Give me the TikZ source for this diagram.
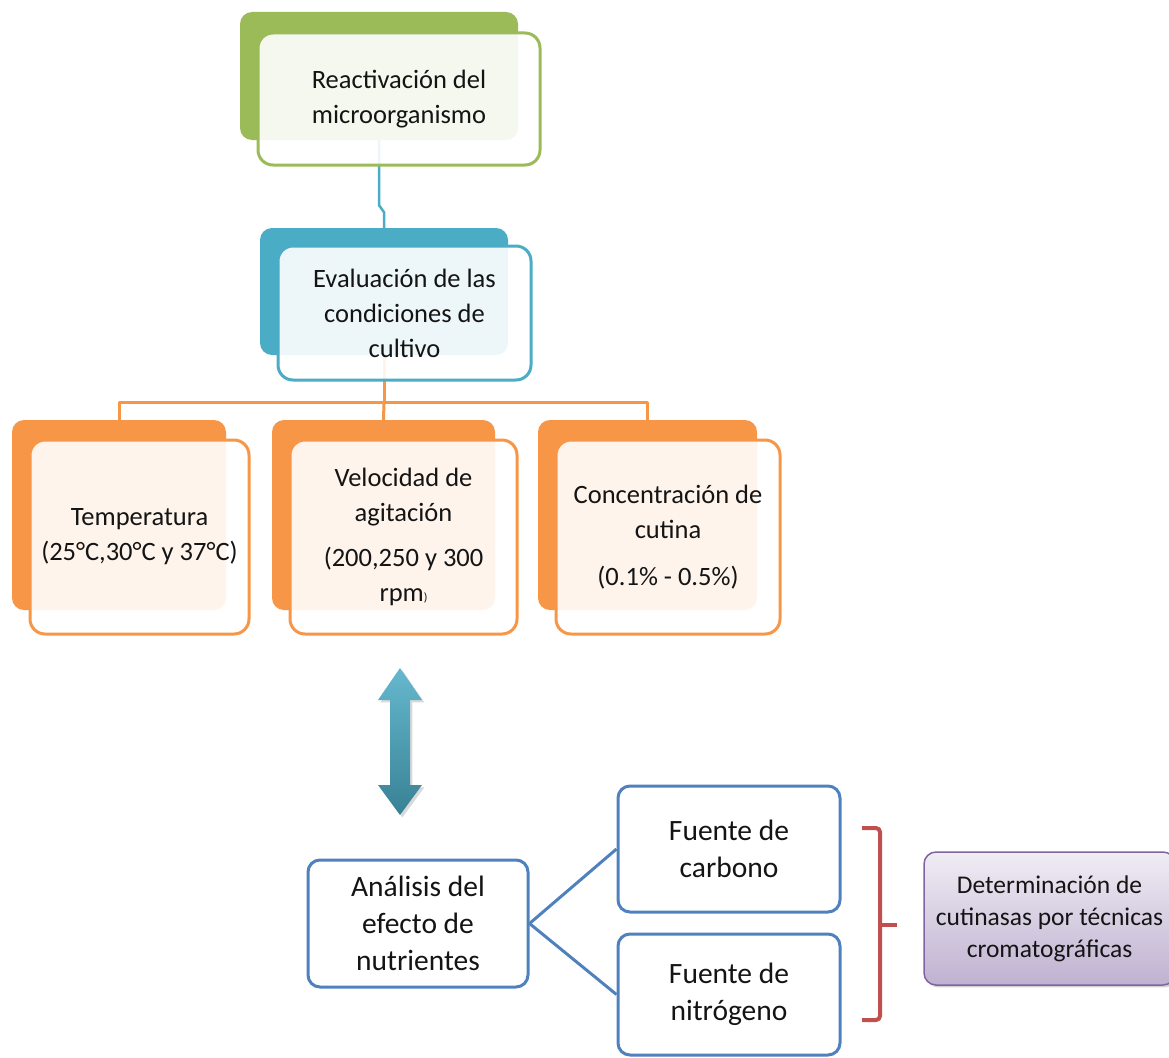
\documentclass[tikz,border=0pt]{standalone}
\usepackage{fontspec}
\setmainfont{Carlito}
\usetikzlibrary{positioning,shadows}
\definecolor{ogreen}{HTML}{9BBB59}
\definecolor{oblue}{HTML}{4BACC6}
\definecolor{oorange}{HTML}{F79646}
\definecolor{nblue}{HTML}{4F81BD}
\definecolor{bred}{HTML}{C0504D}
\definecolor{vpurple}{HTML}{8064A2}
\definecolor{txt}{HTML}{141414}
\begin{document}
\begin{tikzpicture}[x=1pt,y=-1pt,line join=round,
  every node/.style={text=txt,font=\fontsize{26.5}{35}\selectfont,align=center},
  back/.style={rounded corners=12pt,inner sep=0pt},
  front/.style={rounded corners=15pt,line width=3pt,fill=white,fill opacity=0.9,text opacity=1,inner sep=0pt},
  nutbox/.style={draw=nblue,line width=3pt,rounded corners=12pt,fill=white,inner sep=0pt,font=\fontsize{29.5}{37}\selectfont},
]
\useasboundingbox (0,0) rectangle (1169,1057);

 \node (node_0b) at (379,76) [back,fill=ogreen,minimum width=278pt,minimum height=128pt] {};
 \node (node_1b) at (384,291.5) [back,fill=oblue,minimum width=248pt,minimum height=127pt] {};
 \node (node_2b) at (119,515) [back,fill=oorange,minimum width=214pt,minimum height=190pt] {};
 \node (node_3b) at (383.5,515) [back,fill=oorange,minimum width=223pt,minimum height=190pt] {};
 \node (node_4b) at (647.5,515) [back,fill=oorange,minimum width=219pt,minimum height=190pt] {};

  \draw [oblue,line width=2.5pt] (node_0b.south) -- ++(0,65) -- ++(5,7) |- (node_1b.north);
  \coordinate (fork) at (384,402);
  \draw [oorange,line width=3pt] (node_1b.south) -- (fork);
  \draw [oorange,line width=3pt] (node_2b.north) |- (fork) -| (node_4b.north);
  \draw [oorange,line width=3pt] (fork) -- (node_3b.north);

 \node (node_0) at (399,99) [front,draw=ogreen,minimum width=282pt,minimum height=132pt] {Reactivación del\\microorganismo};
 \node (node_1) at (404.5,313) [front,draw=oblue,minimum width=253pt,minimum height=134pt] {Evaluación de las\\condiciones de\\cultivo};
 \node (node_2) at (139.5,537) [front,draw=oorange,minimum width=219pt,minimum height=194pt] {Temperatura\\(25°C,30°C y 37°C)};
 \node (node_3) at (403.5,537) [front,draw=oorange,minimum width=227pt,minimum height=194pt] {Velocidad de\\agitación\\[10pt](200,250 y 300\\rpm{\fontsize{12}{14}\selectfont)}};
 \node (node_4) at (668,537) [front,draw=oorange,minimum width=224pt,minimum height=194pt] {Concentración de\\cutina\\[12pt](0.1\% - 0.5\%)};

  \shade [top color=oblue!85!white,bottom color=oblue!75!black,drop shadow={opacity=0.3}]
    (400,668) -- (422,700) -- (410,700) -- (410,785) -- (422,785) -- (400,815)
    -- (378,785) -- (390,785) -- (390,700) -- (378,700) -- cycle;

 \node (node_5) at (418,923.5) [nutbox,minimum width=220pt,minimum height=127pt] {Análisis del\\efecto de\\nutrientes};
 \node (node_6) at (729,849) [nutbox,minimum width=222pt,minimum height=126pt] {Fuente de\\carbono};
 \node (node_7) at (729,994.5) [nutbox,minimum width=222pt,minimum height=121pt] {Fuente de\\nitrógeno};

  \draw [nblue,line width=3pt] (node_5.east) -- (node_6.west);
  \draw [nblue,line width=3pt] (node_5.east) -- (node_7.west);

  \draw [bred,line width=4pt,rounded corners=4pt] (862,828) -- (880,828) -- (880,1020) -- (862,1020);
  \draw [bred,line width=4pt] (880,925) -- (897,925);

 \node (node_8) at (1049.5,918.5) [draw=vpurple,line width=1.5pt,rounded corners=12pt,top color=vpurple!12!white,bottom color=vpurple!50!white,
   drop shadow={opacity=0.35},minimum width=251pt,minimum height=133pt,inner sep=0pt,font=\fontsize{25.5}{32}\selectfont]
   {Determinación de\\cutinasas por técnicas\\cromatográficas};

\end{tikzpicture}
\end{document}
